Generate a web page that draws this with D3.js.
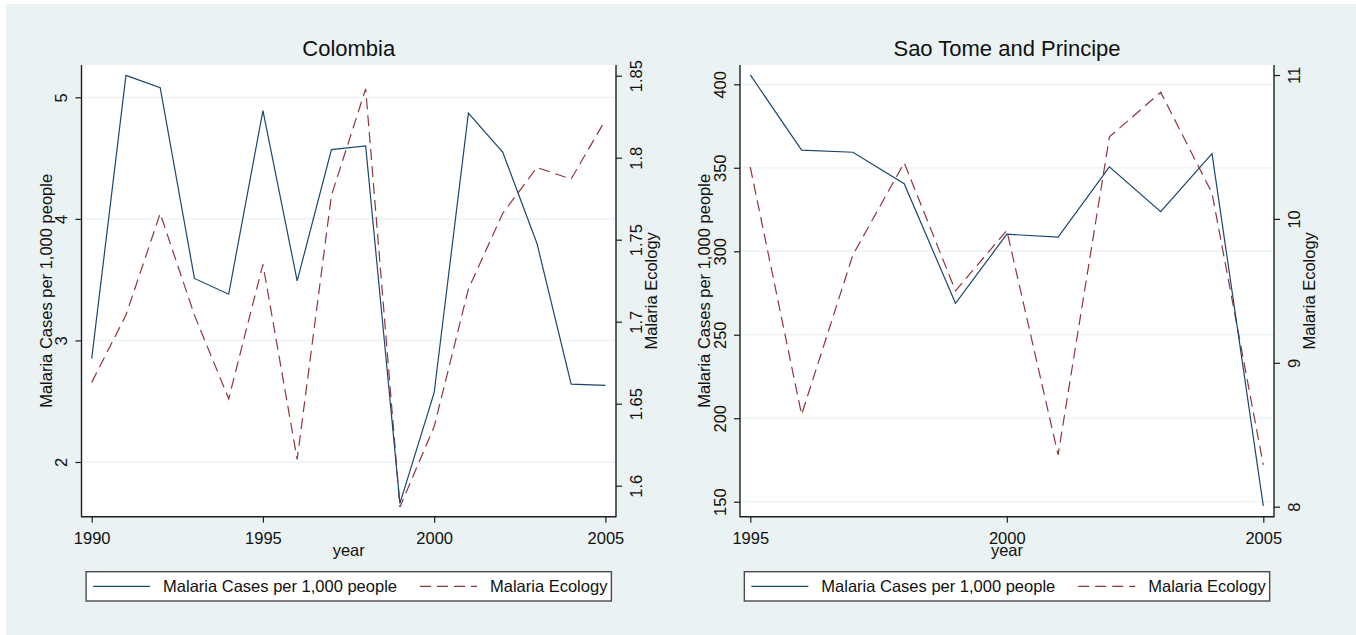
<!DOCTYPE html>
<html><head><meta charset="utf-8">
<script src="https://cdn.jsdelivr.net/npm/d3@7"></script>
<style>
html,body{margin:0;padding:0;background:#fff;}
svg{display:block;font-family:"Liberation Sans",Arial,sans-serif;}
</style>
</head><body>
<svg id="chart" width="1356" height="635"></svg>
<script>
// ---------------- data ----------------
const panelTitles = ["Colombia", "Sao Tome and Principe"];
const seriesNames = ["Malaria Cases per 1,000 people", "Malaria Ecology"];
const xAxisTitle = "year";

const colombiaYears = [1990,1991,1992,1993,1994,1995,1996,1997,1998,1999,2000,2001,2002,2003,2004,2005];
const colombiaCases = [2.85,5.18,5.08,3.51,3.38,4.89,3.49,4.57,4.60,1.66,2.57,4.87,4.55,3.80,2.64,2.63];
const colombiaEcology = [1.663,1.704,1.766,1.704,1.653,1.735,1.616,1.777,1.842,1.587,1.636,1.720,1.766,1.794,1.787,1.823];
const colombiaYearTicks = [1990,1995,2000,2005];
const colombiaCasesTicks = [2,3,4,5];
const colombiaEcologyTicks = [1.6,1.65,1.7,1.75,1.8,1.85];

const stpYears = [1995,1996,1997,1998,1999,2000,2001,2002,2003,2004,2005];
const stpCases = [405.6,360.6,359.3,340.5,268.8,310.2,308.5,350.6,323.7,358.5,147.5];
const stpEcology = [10.36,8.64,9.75,10.39,9.50,9.92,8.36,10.57,10.88,10.18,8.29];
const stpYearTicks = [1995,2000,2005];
const stpCasesTicks = [150,200,250,300,350,400];
const stpEcologyTicks = [8,9,10,11];

// ---------------- style ----------------
const BG = "#eaf2f3";
const NAVY = "#1a476f";
const MAROON = "#90353b";
const AXIS = "#1e1e1e";
const TEXT = "#111";
const FS = 16.5;

const svg = d3.select("#chart");
svg.append("rect").attr("x",6).attr("y",4).attr("width",1350).attr("height",631).attr("fill",BG);

const panels = [
  { title: panelTitles[0], years: colombiaYears, cases: colombiaCases, eco: colombiaEcology,
    xTicks: colombiaYearTicks, lTicks: colombiaCasesTicks, rTicks: colombiaEcologyTicks,
    x0: 81.5, x1: 616, y0: 65, y1: 516.7,
    xDom: [1990,2005], xRange: [91.7,605.4],
    lDom: [2,5], lRange: [462,97.3],
    rDom: [1.6,1.85], rRange: [485.7,75.7] },
  { title: panelTitles[1], years: stpYears, cases: stpCases, eco: stpEcology,
    xTicks: stpYearTicks, lTicks: stpCasesTicks, rTicks: stpEcologyTicks,
    x0: 740, x1: 1274, y0: 65, y1: 516.7,
    xDom: [1995,2005], xRange: [750.3,1263.3],
    lDom: [150,400], lRange: [501.7,84.3],
    rDom: [8,11], rRange: [506.7,75] }
];

panels.forEach(p => {
  const g = svg.append("g");
  const x = d3.scaleLinear().domain(p.xDom).range(p.xRange);
  const yl = d3.scaleLinear().domain(p.lDom).range(p.lRange);
  const yr = d3.scaleLinear().domain(p.rDom).range(p.rRange);
  const cx = (p.x0 + p.x1) / 2;

  // plot region
  g.append("rect").attr("x",p.x0).attr("y",p.y0).attr("width",p.x1-p.x0).attr("height",p.y1-p.y0).attr("fill","#fff");

  // grid
  g.append("g").selectAll("line").data(p.lTicks).join("line")
    .attr("x1",p.x0).attr("x2",p.x1)
    .attr("y1",d=>yl(d)).attr("y2",d=>yl(d))
    .attr("stroke",BG).attr("stroke-width",1.3);

  // title
  g.append("text").attr("x",cx).attr("y",56).attr("text-anchor","middle")
    .attr("font-size",22).attr("fill",TEXT).text(p.title);

  // lines
  const pts = (vals, sc) => p.years.map((yr_, i) => [x(yr_), sc(vals[i])]);
  g.append("path").attr("d", d3.line()(pts(p.eco, yr)))
    .attr("fill","none").attr("stroke",MAROON).attr("stroke-width",1.2)
    .attr("stroke-dasharray","11,6");
  g.append("path").attr("d", d3.line()(pts(p.cases, yl)))
    .attr("fill","none").attr("stroke",NAVY).attr("stroke-width",1.2);

  // axes
  const fmt = d => String(d);
  const ax = g.append("g").attr("transform",`translate(0,${p.y1})`)
    .call(d3.axisBottom(x).tickValues(p.xTicks).tickFormat(fmt).tickSize(6).tickSizeOuter(0));
  ax.select(".domain").remove();
  ax.selectAll("text").attr("y",null).attr("dy",null).attr("y",27.5).attr("font-size",FS).attr("fill",TEXT).attr("font-family",null);

  const al = g.append("g").attr("transform",`translate(${p.x0},0)`)
    .call(d3.axisLeft(yl).tickValues(p.lTicks).tickFormat(fmt).tickSize(6).tickSizeOuter(0));
  al.select(".domain").remove();
  al.selectAll("text").attr("x",null).attr("dy",null).attr("text-anchor","middle")
    .attr("transform","translate(-20,0) rotate(-90)").attr("dy","0.35em")
    .attr("font-size",FS).attr("fill",TEXT).attr("font-family",null);

  const ar = g.append("g").attr("transform",`translate(${p.x1},0)`)
    .call(d3.axisRight(yr).tickValues(p.rTicks).tickFormat(fmt).tickSize(6).tickSizeOuter(0));
  ar.select(".domain").remove();
  ar.selectAll("text").attr("x",null).attr("dy",null).attr("text-anchor","middle")
    .attr("transform","translate(20,0) rotate(-90)").attr("dy","0.35em")
    .attr("font-size",FS).attr("fill",TEXT).attr("font-family",null);

  [ax, al, ar].forEach(a => a.selectAll("line").attr("stroke",AXIS).attr("stroke-width",1.2));

  // axis lines
  g.append("line").attr("x1",p.x0).attr("x2",p.x0).attr("y1",p.y0).attr("y2",p.y1+0.6).attr("stroke",AXIS).attr("stroke-width",1.4);
  g.append("line").attr("x1",p.x1).attr("x2",p.x1).attr("y1",p.y0).attr("y2",p.y1+0.6).attr("stroke",AXIS).attr("stroke-width",1.4);
  g.append("line").attr("x1",p.x0).attr("x2",p.x1).attr("y1",p.y1).attr("y2",p.y1).attr("stroke",AXIS).attr("stroke-width",1.4);

  // axis titles
  g.append("text").attr("transform",`translate(${p.x0-35.5},${(p.y0+p.y1)/2}) rotate(-90)`)
    .attr("dy","0.35em").attr("text-anchor","middle").attr("font-size",FS).attr("fill",TEXT).text(seriesNames[0]);
  g.append("text").attr("transform",`translate(${p.x1+35},${(p.y0+p.y1)/2}) rotate(-90)`)
    .attr("dy","0.35em").attr("text-anchor","middle").attr("font-size",FS).attr("fill",TEXT).text(seriesNames[1]);
  g.append("text").attr("x",cx).attr("y",556).attr("text-anchor","middle").attr("font-size",FS).attr("fill",TEXT).text(xAxisTitle);

  // legend
  const lg = g.append("g");
  const box = lg.append("rect").attr("y",571.7).attr("height",29.3).attr("fill","#fff")
    .attr("stroke","#4a4a4a").attr("stroke-width",1.4);
  const t1 = lg.append("text").attr("y",592.2).attr("font-size",FS).attr("fill",TEXT).text(seriesNames[0]);
  const t2 = lg.append("text").attr("y",592.2).attr("font-size",FS).attr("fill",TEXT).text(seriesNames[1]);
  const w1 = t1.node().getComputedTextLength();
  const w2 = t2.node().getComputedTextLength();
  const pad = 7, keyW = 57, keyGap = 13, itemGap = 23, padR = 4;
  const total = pad + keyW + keyGap + w1 + itemGap + keyW + keyGap + w2 + padR;
  const bx = cx - total / 2;
  box.attr("x",bx).attr("width",total);
  const k1 = bx + pad;
  lg.append("line").attr("x1",k1).attr("x2",k1+keyW).attr("y1",586.4).attr("y2",586.4).attr("stroke",NAVY).attr("stroke-width",1.2);
  t1.attr("x",k1+keyW+keyGap);
  const k2 = k1 + keyW + keyGap + w1 + itemGap;
  lg.append("line").attr("x1",k2).attr("x2",k2+keyW).attr("y1",586.4).attr("y2",586.4).attr("stroke",MAROON).attr("stroke-width",1.2).attr("stroke-dasharray","11,6");
  t2.attr("x",k2+keyW+keyGap);
});
</script>
</body></html>
